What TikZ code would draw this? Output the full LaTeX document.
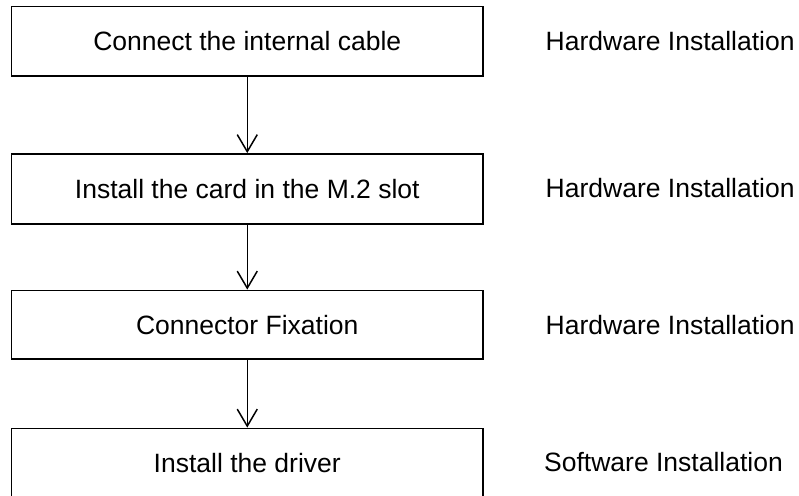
\documentclass[tikz,border=0pt]{standalone}
\usepackage{fontspec}
\setmainfont{Liberation Sans}
\usetikzlibrary{arrows.meta}
\begin{document}
\begin{tikzpicture}[x=1pt,y=-1pt,
  stepbox/.style={draw=black,line width=1.8pt,minimum width=471.5pt,inner sep=0pt,
    text height=19pt,text depth=0pt,font=\fontsize{26.5}{30}\selectfont},
  lbl/.style={anchor=base west,inner sep=0pt,font=\fontsize{26.5}{30}\selectfont},
  conn/.style={line width=1.5pt,-{Straight Barb[length=17pt,width=20pt,line width=1.5pt]}}]
\useasboundingbox (0,0) rectangle (799,495);
\clip (0,0) rectangle (799,495);
\node[stepbox,minimum height=69.5pt] (b1) at (247.25,41.25) {Connect the internal cable};
\node[stepbox,minimum height=70pt] (b2) at (247.25,189) {Install the card in the M.2 slot};
\node[stepbox,minimum height=68.5pt] (b3) at (247.25,324.75) {Connector Fixation};
\node[stepbox,minimum height=69pt] (b4) at (247.25,463) {Install the driver};
\node[lbl] (l1) at (545.5,50.7) {Hardware Installation};
\node[lbl] (l2) at (545.5,197.5) {Hardware Installation};
\node[lbl] (l3) at (545.5,334.5) {Hardware Installation};
\node[lbl] (l4) at (544,471) {Software Installation};
\draw[conn] (b1) -- (b2);
\draw[conn] (b2) -- (b3);
\draw[conn] (b3) -- (b4);
\end{tikzpicture}
\end{document}
